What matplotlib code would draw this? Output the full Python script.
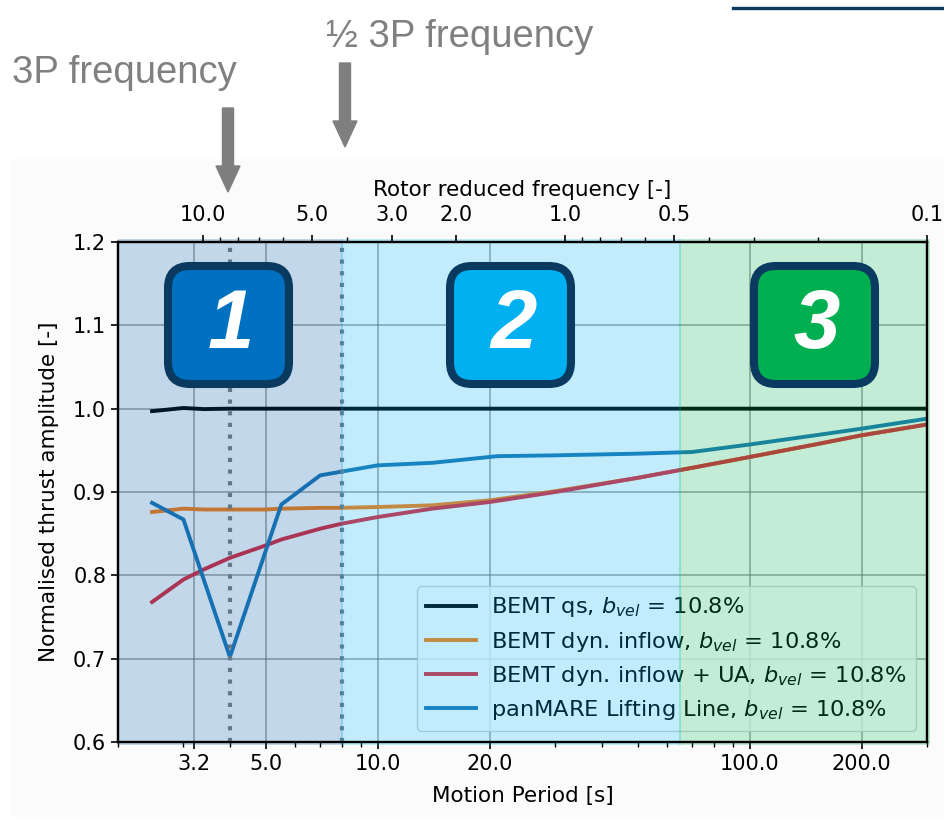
import matplotlib
matplotlib.use("Agg")
import matplotlib.pyplot as plt
from matplotlib.patches import FancyBboxPatch, FancyArrow, Rectangle
from matplotlib.ticker import FixedLocator, FixedFormatter, LogLocator, NullFormatter

# ----------------- data -----------------
period_bemt = [2.47, 3.0, 3.4, 4.0, 5.0, 5.5, 7.0, 8.0, 10.0, 14.0, 20.0, 30.0,
               50.0, 70.0, 100.0, 150.0, 200.0, 300.0]
bemt_qs = [0.997, 1.0008, 0.9995, 1.0, 1.0, 1.0, 1.0, 1.0, 1.0, 1.0, 1.0, 1.0,
           1.0, 1.0, 1.0, 1.0, 1.0, 1.0]
bemt_dyn = [0.876, 0.880, 0.879, 0.879, 0.879, 0.880, 0.881, 0.881, 0.882, 0.884,
            0.890, 0.901, 0.917, 0.929, 0.942, 0.957, 0.968, 0.981]
bemt_dyn_ua = [0.768, 0.795, 0.807, 0.821, 0.836, 0.843, 0.856, 0.862, 0.870, 0.880,
               0.888, 0.900, 0.917, 0.929, 0.942, 0.957, 0.968, 0.981]

period_ll = [2.47, 3.0, 4.0, 5.5, 7.0, 10.0, 14.0, 21.0, 30.0, 50.0, 70.0, 100.0,
             150.0, 200.0, 300.0]
panmare_ll = [0.887, 0.867, 0.702, 0.885, 0.920, 0.932, 0.935, 0.943, 0.944, 0.946,
              0.948, 0.957, 0.968, 0.976, 0.988]

labels = [r"BEMT qs, $b_{vel}$ = 10.8%",
          r"BEMT dyn. inflow, $b_{vel}$ = 10.8%",
          r"BEMT dyn. inflow + UA, $b_{vel}$ = 10.8%",
          r"panMARE Lifting Line, $b_{vel}$ = 10.8%"]

period_ticks = [3.2, 5.0, 10.0, 20.0, 100.0, 200.0]
period_ticklabels = ["3.2", "5.0", "10.0", "20.0", "100.0", "200.0"]
freq_ticks = [10.0, 5.0, 3.0, 2.0, 1.0, 0.5, 0.1]
freq_ticklabels = ["10.0", "5.0", "3.0", "2.0", "1.0", "0.5", "0.1"]

period_3p = 4.0
period_half_3p = 8.0
region_edges = [2.0, 8.0, 65.0, 300.0]

# ----------------- figure -----------------
plt.rcParams['font.size'] = 15
plt.rcParams['axes.labelsize'] = 15.5
fig = plt.figure(figsize=(9.45, 8.22), dpi=100)
fig.patches.append(Rectangle((11 / 945, 5 / 822), 934 / 945, 658 / 822,
                             transform=fig.transFigure, facecolor='#fbfbfb',
                             edgecolor='none', zorder=-1))

ax = fig.add_axes([118 / 945, 80 / 822, 809 / 945, 500 / 822])
ax.plot(period_bemt, bemt_qs, color='black', lw=2.8, label=labels[0])
ax.plot(period_bemt, bemt_dyn, color='tab:orange', lw=2.8, label=labels[1])
ax.plot(period_bemt, bemt_dyn_ua, color='#e0283a', lw=2.8, label=labels[2])
ax.plot(period_ll, panmare_ll, color='tab:blue', lw=2.8, label=labels[3])

for p in (period_3p, period_half_3p):
    ax.axvline(p, color='grey', lw=3, ls=(0, (1, 1.8)), zorder=3)

ax.set_xscale('log')
ax.set_xlim(region_edges[0], region_edges[-1])
ax.set_ylim(0.6, 1.2)
ax.xaxis.set_major_locator(FixedLocator(period_ticks))
ax.xaxis.set_major_formatter(FixedFormatter(period_ticklabels))
ax.xaxis.set_minor_locator(LogLocator(subs='all'))
ax.xaxis.set_minor_formatter(NullFormatter())
ax.set_yticks([0.6, 0.7, 0.8, 0.9, 1.0, 1.1, 1.2])
ax.grid(True, which='major', color='#7a7a7a', lw=1.3, alpha=0.6)
ax.tick_params(which='major', length=5, width=1.2)
ax.tick_params(which='minor', length=3.5, width=1.0)
for s in ax.spines.values():
    s.set_linewidth(1.6)
ax.set_xlabel("Motion Period [s]", labelpad=9)
ax.set_ylabel("Normalised thrust amplitude [-]", labelpad=10)

leg = ax.legend(loc='lower right', fontsize=16.2, handlelength=2.2,
                handletextpad=0.7, labelspacing=0.45,
                fancybox=True, framealpha=0.8, edgecolor='0.8')
leg.set_zorder(5)

# top axis: rotor reduced frequency
ax2 = ax.twiny()
ax2.set_xscale('log')
ax2.set_xlim(17.18, 0.1)
ax2.xaxis.set_major_locator(FixedLocator(freq_ticks))
ax2.xaxis.set_major_formatter(FixedFormatter(freq_ticklabels))
ax2.xaxis.set_minor_locator(LogLocator(subs='all'))
ax2.xaxis.set_minor_formatter(NullFormatter())
ax2.tick_params(which='major', length=5, width=1.2, pad=7)
ax2.tick_params(which='minor', length=3.5, width=1.0)
for s in ax2.spines.values():
    s.set_linewidth(1.6)
ax2.set_xlabel("Rotor reduced frequency [-]", labelpad=7)

# translucent region overlays (on top of everything in the plot)
region_colors = ['#005caa', '#00b0f0', '#00b050']
for i, c in enumerate(region_colors):
    x0 = region_edges[i] * (0.992 if i > 0 else 1.0)
    x1 = region_edges[i + 1] / 0.992 if i < 2 else region_edges[i + 1] * 1.02
    ax.axvspan(x0, x1, ymin=-0.006, ymax=1.006, facecolor=c, edgecolor='none',
               alpha=0.24, zorder=10, clip_on=False)

# numbered boxes
box_left = [168, 450, 754]
box_nums = ['1', '2', '3']
box_fill = ['#0070c0', '#00b0f0', '#00b050']
for xl, n, fc in zip(box_left, box_nums, box_fill):
    b = FancyBboxPatch(((xl + 22) / 100, (822 - 384 + 22) / 100), 0.77, 0.74,
                       boxstyle='round,pad=0.22', transform=fig.dpi_scale_trans,
                       facecolor=fc, edgecolor='#0b3a60', lw=5.8, zorder=20)
    fig.patches.append(b)
    fig.text((xl + 63) / 945, 1 - 326 / 822, n, color='white', fontsize=60,
             fontweight='bold', style='italic', family='Liberation Sans',
             ha='center', va='center', zorder=21)

# annotations above the chart
for x, ytop, ytip in [(228, 108, 192), (345, 63, 147)]:
    arr = FancyArrow(x / 100, (822 - ytop) / 100, 0, -(ytip - ytop) / 100,
                     width=0.11, head_width=0.24, head_length=0.26,
                     length_includes_head=True, transform=fig.dpi_scale_trans,
                     color='#7f7f7f', zorder=20)
    fig.patches.append(arr)
fig.text(12 / 945, 1 - 83 / 822, "3P frequency", color='#808080', fontsize=27.5,
         family='Liberation Sans', ha='left', va='baseline')
fig.text(326 / 945, 1 - 47 / 822, "½ 3P frequency", color='#808080', fontsize=27.5,
         family='Liberation Sans', ha='left', va='baseline')

# underline of the cut-off heading at the top right
fig.lines.append(plt.Line2D([733 / 945, 1.0], [1 - 8.5 / 822, 1 - 8.5 / 822],
                            transform=fig.transFigure, color='#0b3a60', lw=2.4))

fig.savefig("out.png", dpi=100)
